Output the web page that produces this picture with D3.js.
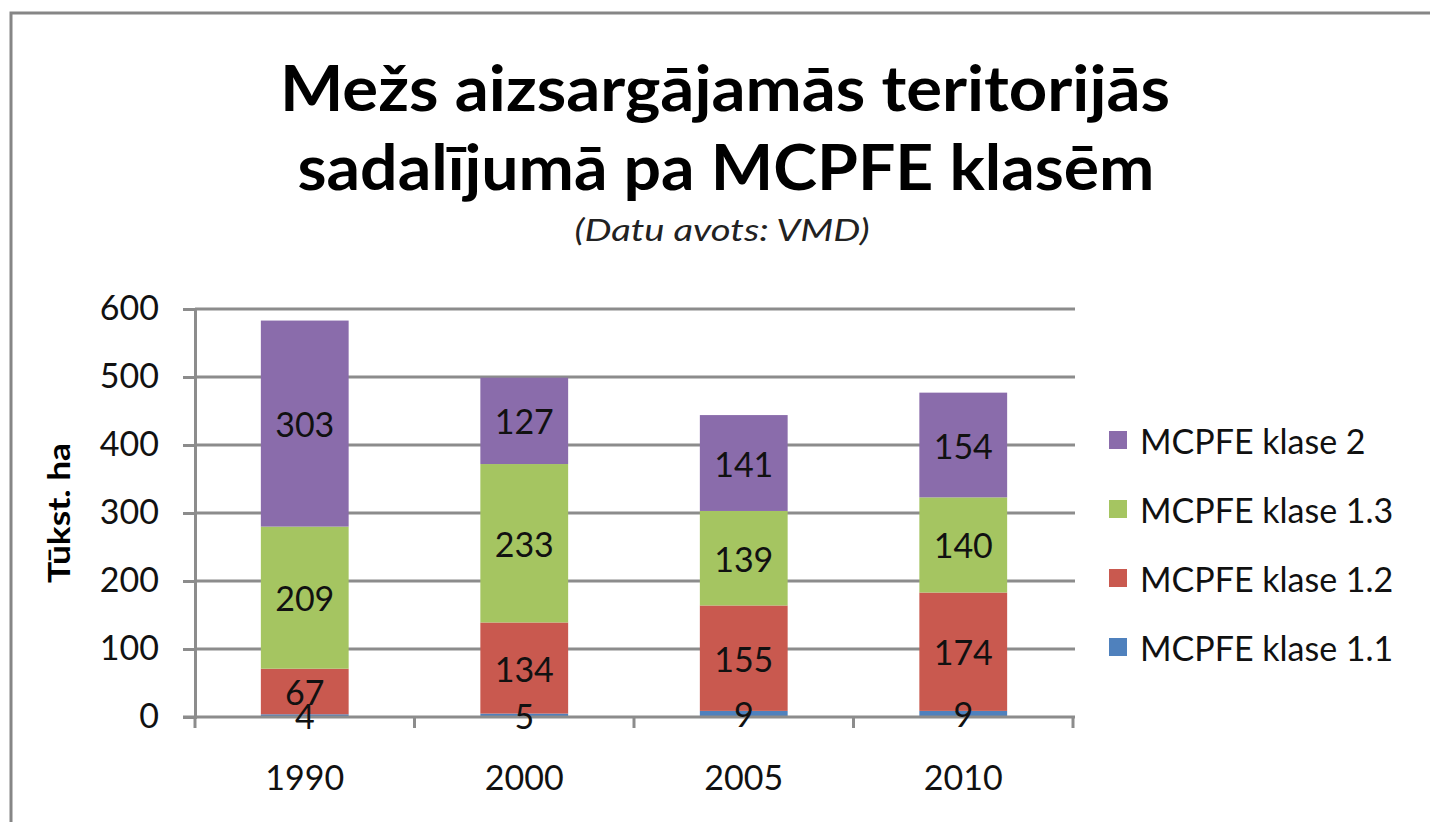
<!DOCTYPE html>
<html>
<head>
<meta charset="utf-8">
<script src="https://cdn.jsdelivr.net/npm/d3@7"></script>
<style>
  body { margin: 0; background: #fff; }
  svg { display: block; font-family: Lato, "Open Sans", sans-serif; }
</style>
</head>
<body>
<svg id="vis" width="1430" height="822"></svg>
<script>
// data
var years = ["1990", "2000", "2005", "2010"];
var seriesNames = ["MCPFE klase 1.1", "MCPFE klase 1.2", "MCPFE klase 1.3", "MCPFE klase 2"];
var klase11 = [4, 5, 9, 9];
var klase12 = [67, 134, 155, 174];
var klase13 = [209, 233, 139, 140];
var klase2 = [303, 127, 141, 154];
var yTicks = [0, 100, 200, 300, 400, 500, 600];
var colors = ["#4f81bd", "#c9594f", "#a5c561", "#8a6cab"];

var svg = d3.select('#vis');

// plot area
var plot = {l: 195, r: 1073, t: 309, b: 717};

// frame (only top and left edges visible in reference)
svg.append('path')
    .attr('d', 'M11,822V13H1430')
    .attr('fill', 'none')
    .attr('stroke', '#868686')
    .attr('stroke-width', 3);

// titles
var title = svg.append('text')
    .attr('text-anchor', 'middle')
    .attr('font-weight', 'bold')
    .attr('font-size', 63)
    .attr('fill', '#000');
title.append('tspan').attr('x', 725).attr('y', 111)
    .attr('textLength', 890).attr('lengthAdjust', 'spacingAndGlyphs')
    .text('Mežs aizsargājamās teritorijās');
title.append('tspan').attr('x', 726).attr('y', 190)
    .attr('textLength', 857).attr('lengthAdjust', 'spacingAndGlyphs')
    .text('sadalījumā pa MCPFE klasēm');

svg.append('text')
    .attr('x', 722).attr('y', 241)
    .attr('text-anchor', 'middle')
    .attr('font-style', 'italic')
    .attr('font-size', 31)
    .attr('textLength', 295).attr('lengthAdjust', 'spacingAndGlyphs')
    .attr('fill', '#222')
    .text('(Datu avots: VMD)');

var x = d3.scaleBand()
    .domain(years)
    .range([plot.l, plot.r])
    .paddingInner(0.6)
    .paddingOuter(0.3);

var y = d3.scaleLinear()
    .domain([0, 600])
    .range([plot.b, plot.t]);

// gridlines
svg.append('g')
    .selectAll('line')
    .data(yTicks.slice(1))
    .enter().append('line')
    .attr('x1', plot.l).attr('x2', plot.r + 2)
    .attr('y1', function(d){ return y(d); })
    .attr('y2', function(d){ return y(d); })
    .attr('stroke', '#8c8c8c')
    .attr('stroke-width', 3);

// y axis
var yAxis = svg.append('g')
    .attr('transform', 'translate(' + plot.l + ',0)')
    .call(d3.axisLeft(y).tickValues(yTicks).tickSize(12).tickPadding(24));
yAxis.select('.domain').attr('stroke', '#8c8c8c').attr('stroke-width', 3);
yAxis.selectAll('.tick line').attr('stroke', '#8c8c8c').attr('stroke-width', 3);
yAxis.selectAll('text')
    .attr('font-size', 34)
    .attr('font-family', 'Lato, sans-serif')
    .attr('fill', '#111');

svg.append('text')
    .attr('transform', 'translate(58,513) rotate(-90)')
    .attr('text-anchor', 'middle')
    .attr('dominant-baseline', 'central')
    .attr('font-weight', 'bold')
    .attr('font-size', 30)
    .attr('textLength', 140).attr('lengthAdjust', 'spacingAndGlyphs')
    .text('Tūkst. ha');

// stacked bars
var rows = years.map(function(yr, i){
    return {year: yr, k11: klase11[i], k12: klase12[i], k13: klase13[i], k2: klase2[i]};
});
var keys = ["k11", "k12", "k13", "k2"];
var stack = d3.stack().keys(keys)(rows);

var layers = svg.append('g').selectAll('g.layer')
    .data(stack)
    .enter().append('g')
    .attr('class', 'layer')
    .attr('fill', function(d, i){ return colors[i]; });

layers.selectAll('rect')
    .data(function(d){ return d; })
    .enter().append('rect')
    .attr('x', function(d){ return x(d.data.year); })
    .attr('y', function(d){ return y(d[1]); })
    .attr('width', x.bandwidth())
    .attr('height', function(d){ return y(d[0]) - y(d[1]); });

// x axis, ticks between categories
var xAxisG = svg.append('g');
xAxisG.append('line')
    .attr('x1', plot.l - 12).attr('x2', plot.r + 2)
    .attr('y1', plot.b).attr('y2', plot.b)
    .attr('stroke', '#8c8c8c').attr('stroke-width', 3);
var step = x.step();
xAxisG.selectAll('.xt')
    .data(d3.range(years.length + 1))
    .enter().append('line')
    .attr('x1', function(d){ return plot.l + d * step; })
    .attr('x2', function(d){ return plot.l + d * step; })
    .attr('y1', plot.b).attr('y2', plot.b + 11)
    .attr('stroke', '#8c8c8c').attr('stroke-width', 3);
xAxisG.selectAll('.xl')
    .data(years)
    .enter().append('text')
    .attr('x', function(d){ return x(d) + x.bandwidth() / 2; })
    .attr('y', 790)
    .attr('text-anchor', 'middle')
    .attr('font-size', 34)
    .attr('fill', '#111')
    .text(function(d){ return d; });

// data labels, drawn after all bars so small segments stay readable
var labelGroups = svg.append('g').selectAll('g')
    .data(stack)
    .enter().append('g');
labelGroups.selectAll('text')
    .data(function(d){ return d; })
    .enter().append('text')
    .attr('x', function(d){ return x(d.data.year) + x.bandwidth() / 2; })
    .attr('y', function(d){ return y((d[0] + d[1]) / 2); })
    .attr('text-anchor', 'middle')
    .attr('dominant-baseline', 'central')
    .attr('font-size', 34)
    .attr('fill', '#111')
    .text(function(d){ return d[1] - d[0]; });

// legend (top to bottom: reversed series)
var legend = svg.append('g').selectAll('g')
    .data(d3.range(seriesNames.length).reverse())
    .enter().append('g')
    .attr('transform', function(d, i){ return 'translate(1109,' + (440 + i * 69) + ')'; });
legend.append('rect')
    .attr('x', 0).attr('y', -9)
    .attr('width', 18).attr('height', 18)
    .attr('fill', function(d){ return colors[d]; });
legend.append('text')
    .attr('x', 31).attr('y', 0)
    .attr('dominant-baseline', 'central')
    .attr('font-size', 34)
    .attr('fill', '#111')
    .text(function(d){ return seriesNames[d]; });
</script>
</body>
</html>
